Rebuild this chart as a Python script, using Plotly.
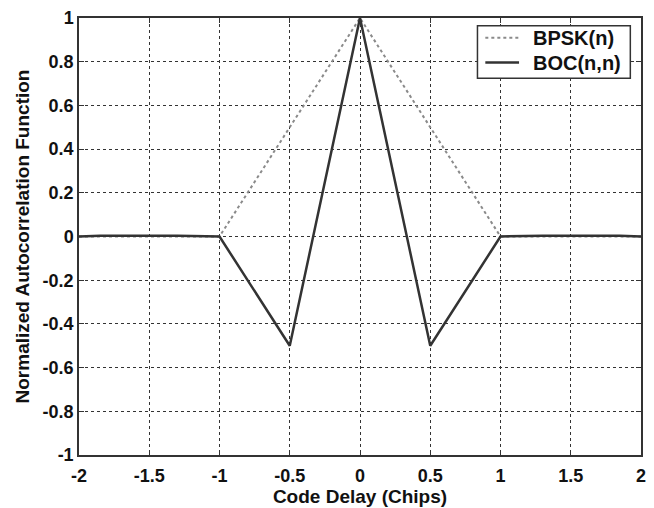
import plotly.graph_objects as go

# Code delay (chips) and normalized autocorrelation values
bpsk_delay = [-2, -1, 0, 1, 2]
bpsk_acf = [0, 0, 1, 0, 0]

boc_delay = [-2, -1.85, -1.3, -1, -0.5, 0, 0.5, 1, 1.3, 1.85, 2]
boc_acf = [0, 0.004, 0.004, 0, -0.5, 1, -0.5, 0, 0.004, 0.004, 0]

x_ticks = [-2, -1.5, -1, -0.5, 0, 0.5, 1, 1.5, 2]
y_ticks = [-1, -0.8, -0.6, -0.4, -0.2, 0, 0.2, 0.4, 0.6, 0.8, 1]

series_names = ["BPSK(n)", "BOC(n,n)"]

font_family = "Liberation Sans, Arial, sans-serif"
tick_font = dict(family=font_family, size=18, color="#111111", weight="bold")
title_font = dict(family=font_family, size=19, color="#111111", weight="bold")
legend_font = dict(family=font_family, size=20, color="#111111", weight="bold")

bpsk_line = dict(color="#8a8a8a", width=2, dash="dot")
boc_line = dict(color="#333333", width=2.5)

fig = go.Figure()
fig.add_trace(go.Scatter(x=bpsk_delay, y=bpsk_acf, mode="lines",
                         name=series_names[0], line=bpsk_line))
fig.add_trace(go.Scatter(x=boc_delay, y=boc_acf, mode="lines",
                         name=series_names[1], line=boc_line))

axis_common = dict(
    showline=True, linecolor="#333333", linewidth=1.5, mirror="ticks",
    showgrid=True, gridcolor="#333333", griddash="dot", gridwidth=1,
    ticks="inside", ticklen=5, tickcolor="#333333",
    zeroline=False,
    tickfont=tick_font,
)

fig.update_xaxes(
    range=[-2, 2], tickvals=x_ticks,
    ticktext=[f"{v:g}" for v in x_ticks],
    ticklabelstandoff=4,
    title=dict(text="Code Delay (Chips)", standoff=0, font=title_font),
    **axis_common,
)
fig.update_yaxes(
    range=[-1, 1], tickvals=y_ticks,
    ticktext=[f"{v:g}" for v in y_ticks],
    title=dict(text="Normalized Autocorrelation Function", standoff=8, font=title_font),
    **axis_common,
)

# Compact boxed legend in the upper-right corner of the axes
box = dict(x0=0.709, x1=0.981, y0=0.862, y1=0.982)
rows_y = [0.955, 0.898]
sample_x = (0.723, 0.783)
text_x = 0.804

fig.add_shape(type="rect", xref="paper", yref="paper", **box,
              line=dict(color="#333333", width=1.5), fillcolor="white", layer="above")
for name, style, ry in zip(series_names, [bpsk_line, boc_line], rows_y):
    fig.add_shape(type="line", xref="paper", yref="paper",
                  x0=sample_x[0], x1=sample_x[1], y0=ry, y1=ry,
                  line=style, layer="above")
    fig.add_annotation(xref="paper", yref="paper", x=text_x, y=ry,
                       xanchor="left", yanchor="middle", text=name,
                       showarrow=False, font=legend_font)

fig.update_layout(
    width=654, height=508,
    margin=dict(l=79, r=8, t=17, b=50),
    plot_bgcolor="white", paper_bgcolor="white",
    font=dict(family=font_family, size=18, color="#111111"),
    showlegend=False,
)

fig.write_html("out.html")
